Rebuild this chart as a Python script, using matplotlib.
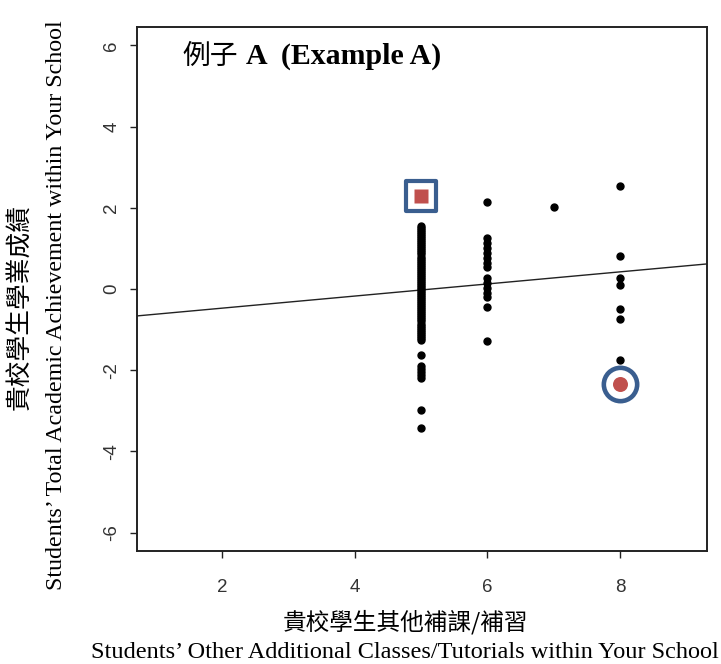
import matplotlib
matplotlib.use("Agg")
import matplotlib.pyplot as plt
from matplotlib.markers import MarkerStyle

# ---- data ----
x5 = [5] * 65
y5 = [1.55, 1.5, 1.45, 1.4, 1.35, 1.3, 1.25, 1.2, 1.15, 1.1, 1.05, 1.0, 0.95, 0.9,
      0.85, 0.8, 0.75, 0.7, 0.65, 0.6, 0.55, 0.5, 0.45, 0.4, 0.35, 0.3, 0.25, 0.2,
      0.15, 0.1, 0.05, 0.0, -0.05, -0.1, -0.15, -0.2, -0.25, -0.3, -0.35, -0.4,
      -0.45, -0.5, -0.55, -0.6, -0.65, -0.7, -0.75, -0.8, -0.85, -0.9, -0.95,
      -1.0, -1.05, -1.1, -1.15, -1.2, -1.26, -1.63, -1.9, -1.98, -2.05, -2.12,
      -2.18, -2.98, -3.41]
x6 = [6] * 15
y6 = [2.13, 1.25, 1.13, 1.0, 0.88, 0.76, 0.63, 0.53, 0.26, 0.14, 0.02, -0.11,
      -0.2, -0.45, -1.27]
x7 = [7]
y7 = [2.02]
x8 = [8] * 7
y8 = [2.54, 0.81, 0.27, 0.1, -0.49, -0.74, -1.75]

square_pt = (5, 2.28)     # highlighted point (square)
circle_pt = (8, -2.34)    # highlighted point (circle)

reg_intercept = -0.77
reg_slope = 0.149

x_ticks = [2, 4, 6, 8]
y_ticks = [-6, -4, -2, 0, 2, 4, 6]
x_lim = (0.72, 9.31)
y_lim = (-6.45, 6.45)

title_cjk = "例子"
title_en = "A  (Example A)"
xlabel_cjk = "貴校學生其他補課/補習"
xlabel_en = "Students\u2019 Other Additional Classes/Tutorials within Your School"
ylabel_cjk = "貴校學生學業成績"
ylabel_en = "Students\u2019 Total Academic Achievement within Your School"

BLUE = "#3a5e8f"
RED = "#c0504d"
CJK = ["Noto Sans CJK TC", "DejaVu Sans"]
SERIF = ["Liberation Serif", "DejaVu Serif"]

W, H = 721, 664
fig = plt.figure(figsize=(W / 100, H / 100), dpi=100)
L, R, T, B = 137, 707, 27, 551
ax = fig.add_axes([L / W, 1 - B / H, (R - L) / W, (B - T) / H])

xs = x5 + x6 + x7 + x8
ys = y5 + y6 + y7 + y8
ax.plot(xs, ys, linestyle="none", marker="o", ms=5, color="black", zorder=3)

ax.axline((0, reg_intercept), slope=reg_slope, color="#222222", lw=1.0, zorder=2)

# highlighted square
ax.plot([square_pt[0]], [square_pt[1]], linestyle="none",
        marker=MarkerStyle("s", joinstyle="round"), ms=22, mfc="white",
        mec=BLUE, mew=3.0, zorder=4)
ax.plot([square_pt[0]], [square_pt[1]], linestyle="none", marker="s", ms=9.4,
        mfc=RED, mec="none", zorder=5)
# highlighted circle
ax.plot([circle_pt[0]], [circle_pt[1]], linestyle="none", marker="o", ms=24,
        mfc="white", mec=BLUE, mew=3.3, zorder=4)
ax.plot([circle_pt[0]], [circle_pt[1]], linestyle="none", marker="o", ms=10.8,
        mfc=RED, mec="none", zorder=5)

ax.set_xlim(*x_lim)
ax.set_ylim(*y_lim)
ax.set_xticks(x_ticks)
ax.set_yticks(y_ticks)
ax.set_xticklabels([str(v) for v in x_ticks], family="Liberation Sans", fontsize=13.5, color="#333333")
ax.set_yticklabels([str(v) for v in y_ticks], family="Liberation Sans", fontsize=13.5, color="#333333",
                   rotation=90, va="center")
ax.tick_params(axis="both", direction="out", length=5, width=1.0, color="#222222")
ax.tick_params(axis="x", pad=15)
ax.tick_params(axis="y", pad=7)
for s in ax.spines.values():
    s.set_linewidth(1.4)
    s.set_color("#222222")

# title
fig.text(182 / W, 1 - 64 / H, title_cjk, family=CJK, fontsize=20, va="baseline", ha="left")
fig.text(246 / W, 1 - 64 / H, title_en, family=SERIF, fontsize=21.5, weight="bold",
         va="baseline", ha="left")

# x label (two lines)
fig.text(405 / W, 1 - 622 / H, xlabel_cjk, family=CJK, fontsize=17, ha="center", va="center")
fig.text(405 / W, 1 - 653 / H, xlabel_en, family=SERIF, fontsize=17.5, ha="center", va="center")

# y label (two lines, rotated)
fig.text(20 / W, 1 - 307 / H, ylabel_cjk, family=CJK, fontsize=18.5, rotation=90,
         ha="center", va="center")
fig.text(57 / W, 1 - 305 / H, ylabel_en, family=SERIF, fontsize=17.3, rotation=90,
         ha="center", va="center")

fig.savefig("out.png", dpi=100)
